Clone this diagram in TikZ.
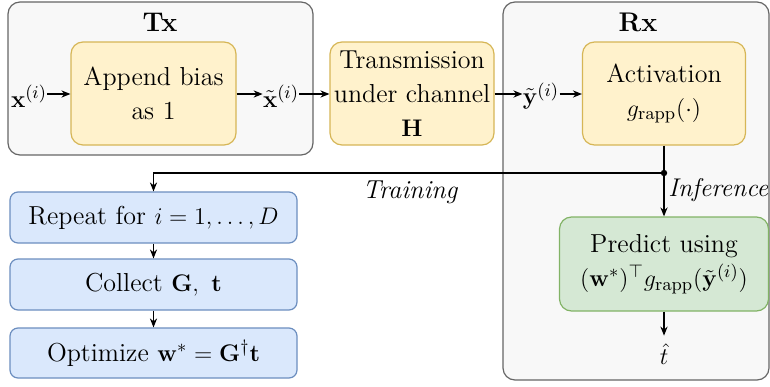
\documentclass[tikz,border=0pt]{standalone}
\usetikzlibrary{arrows.meta}
\definecolor{contfill}{HTML}{F8F8F8}
\definecolor{contdraw}{HTML}{666666}
\definecolor{yfill}{HTML}{FFF2CC}
\definecolor{ydraw}{HTML}{D6B656}
\definecolor{bfill}{HTML}{DAE8FC}
\definecolor{bdraw}{HTML}{6C8EBF}
\definecolor{gfill}{HTML}{D5E8D4}
\definecolor{gdraw}{HTML}{82B366}
\begin{document}
\begin{tikzpicture}[x=0.5pt,y=-0.5pt,
  every node/.style={font=\fontsize{13}{17}\selectfont, inner sep=0pt},
  container/.style={draw=contdraw, fill=contfill, line width=0.6pt, rounded corners=6pt},
  ybox/.style={draw=ydraw, fill=yfill, line width=0.6pt, rounded corners=6pt, align=center},
  bbox/.style={draw=bdraw, fill=bfill, line width=0.6pt, rounded corners=4pt, align=center, minimum width=143.5pt, minimum height=25.5pt},
  gbox/.style={draw=gdraw, fill=gfill, line width=0.6pt, rounded corners=6pt, align=center},
  arr/.style={-{Stealth[length=4.5pt,width=3.6pt]}, line width=0.65pt},
  con/.style={line width=0.65pt}]
\useasboundingbox (0,0) rectangle (770,386);
% containers
\node[container, minimum width=152.5pt, minimum height=76.5pt] (tx) at (160.5,78.5) {};
\node[container, minimum width=133pt, minimum height=189pt] (rx) at (636,191) {};
\node[font=\fontsize{13.5}{17}\selectfont\bfseries] (txl) at (160,22) {Tx};
\node[font=\fontsize{13.5}{17}\selectfont\bfseries] (rxl) at (638,22) {Rx};
% yellow blocks
\node[ybox, minimum width=82.5pt, minimum height=51.5pt] (append) at (153.5,93.5) {Append bias\\as 1};
\node[ybox, minimum width=82pt, minimum height=51.5pt] (trans) at (412,93.5) {Transmission\\under channel\\$\mathbf{H}$};
\node[ybox, minimum width=81.5pt, minimum height=51.5pt] (activ) at (664,93.5) {Activation\\$g_{\mathrm{rapp}}(\cdot)$};
% signal labels
\node (xin) at (29,96) {$\mathbf{x}^{(i)}$};
\node (xt) at (281,96) {$\tilde{\mathbf{x}}^{(i)}$};
\node (yt) at (541,96) {$\tilde{\mathbf{y}}^{(i)}$};
\draw[arr] (xin.east |- 0,94) -- (append.west |- 0,94);
\draw[arr] (append.east |- 0,94) -- (xt.west |- 0,94);
\draw[arr] (xt.east |- 0,94) -- (trans.west |- 0,94);
\draw[arr] (trans.east |- 0,94) -- (yt.west |- 0,94);
\draw[arr] (yt.east |- 0,94) -- (activ.west |- 0,94);
% training blocks
\node[bbox] (rep) at (153.5,217.5) {Repeat for $i = 1, \ldots, D$};
\node[bbox] (coll) at (153.5,284.5) {Collect $\mathbf{G},\ \mathbf{t}$};
\node[bbox, minimum height=25pt] (opt) at (153.5,353) {Optimize $\mathbf{w}^{*} = \mathbf{G}^{\dagger}\mathbf{t}$};
\draw[arr] (rep) -- (coll);
\draw[arr] (coll) -- (opt);
% inference block
\node[gbox, minimum width=104.5pt, minimum height=47pt] (pred) at (664,264) {Predict using\\$(\mathbf{w}^{*})^{\top} g_{\mathrm{rapp}}(\tilde{\mathbf{y}}^{(i)})$};
\node (that) at (664,354) {$\hat{t}$};
% branching
\coordinate (split) at (664,173);
\draw[con] (activ.south) -- (split);
\draw[arr] (split) -| (rep.north);
\draw[arr] (split) -- (pred.north);
\fill (split) circle (3.2);
\draw[arr] (pred.south) -- ++(0,24) coordinate (tend);
\node[font=\fontsize{13}{17}\selectfont\itshape] (train) at (410,192) {Training};
\node[font=\fontsize{12.8}{17}\selectfont\itshape, anchor=west] (inf) at (668,190) {Inference};
\end{tikzpicture}
\end{document}
